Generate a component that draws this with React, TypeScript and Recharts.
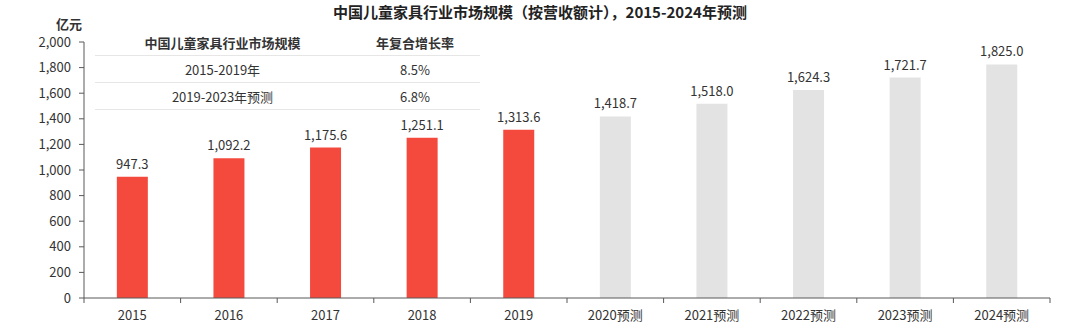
import React from "react";
import {
  BarChart,
  Bar,
  XAxis,
  YAxis,
  Cell,
  LabelList,
} from "recharts";

const years = [
  "2015",
  "2016",
  "2017",
  "2018",
  "2019",
  "2020预测",
  "2021预测",
  "2022预测",
  "2023预测",
  "2024预测",
];
const marketSize = [947.3, 1092.2, 1175.6, 1251.1, 1313.6, 1418.7, 1518.0, 1624.3, 1721.7, 1825.0];
const forecast = [false, false, false, false, false, true, true, true, true, true];
const yTicks = [0, 200, 400, 600, 800, 1000, 1200, 1400, 1600, 1800, 2000];

const cagrRows = [
  { period: "2015-2019年", rate: "8.5%" },
  { period: "2019-2023年预测", rate: "6.8%" },
];

const W = 1080;
const H = 331;
const LEFT = 84;
const RIGHT = 30;
const BAND = (W - LEFT - RIGHT) / years.length;

const FONT = '"Noto Sans CJK SC", "Liberation Sans", sans-serif';
const RED = "#f44a3d";
const GREY = "#e3e3e3";
const AXIS = "#595959";

const data = years.map((year, i) => ({
  year,
  value: marketSize[i],
  forecast: forecast[i],
}));

const fmt = (v: number) =>
  v.toLocaleString("en-US", { minimumFractionDigits: 1, maximumFractionDigits: 1 });

function XTick(props: any) {
  const { x, y, payload, index } = props;
  const last = index === years.length - 1;
  return (
    <g>
      <line x1={x - BAND / 2} y1={y - 8} x2={x - BAND / 2} y2={y - 3} stroke={AXIS} />
      {last && <line x1={x + BAND / 2} y1={y - 8} x2={x + BAND / 2} y2={y - 3} stroke={AXIS} />}
      <text x={x} y={y + 14} textAnchor="middle" fontSize={13} fill="#333" fontFamily={FONT}>
        {payload.value}
      </text>
    </g>
  );
}

export default function App() {
  return (
    <div style={{ position: "absolute", left: 0, top: 0, width: W, height: H, background: "#fff", fontFamily: FONT }}>
      <div
        style={{
          position: "absolute",
          top: 3,
          left: 0,
          width: W,
          textAlign: "center",
          fontSize: 15,
          lineHeight: "18px",
          fontWeight: "bold",
          color: "#222",
        }}
      >
        中国儿童家具行业市场规模（按营收额计），2015-2024年预测
      </div>
      <div
        style={{
          position: "absolute",
          top: 17,
          left: 56,
          fontSize: 13,
          lineHeight: "14px",
          fontWeight: "bold",
          color: "#333",
        }}
      >
        亿元
      </div>
      <BarChart
        width={W}
        height={H}
        data={data}
        margin={{ top: 42, right: RIGHT, bottom: 0, left: 0 }}
        barCategoryGap="34%"
      >
        <XAxis
          dataKey="year"
          height={33}
          tickLine={false}
          axisLine={{ stroke: AXIS }}
          tick={<XTick />}
          interval={0}
        />
        <YAxis
          width={LEFT}
          domain={[0, 2000]}
          ticks={yTicks}
          tickFormatter={(v: number) => v.toLocaleString("en-US")}
          axisLine={{ stroke: AXIS }}
          tickLine={{ stroke: AXIS }}
          tickSize={5}
          tickMargin={8}
          tick={{ fontSize: 13, fill: "#333", fontFamily: FONT }}
        />
        <Bar dataKey="value" isAnimationActive={false}>
          {data.map((d, i) => (
            <Cell key={i} fill={d.forecast ? GREY : RED} />
          ))}
          <LabelList
            dataKey="value"
            position="top"
            offset={8}
            formatter={(v: any) => fmt(Number(v))}
            style={{ fontSize: 13, fill: "#333", fontFamily: FONT }}
          />
        </Bar>
      </BarChart>
      <div style={{ position: "absolute", top: 29, left: 95, width: 385, fontSize: 13, color: "#333" }}>
        <div style={{ display: "flex", height: 26, alignItems: "center", borderBottom: "1px solid #e6e6e6", fontWeight: "bold" }}>
          <div style={{ width: 255, textAlign: "center" }}>中国儿童家具行业市场规模</div>
          <div style={{ width: 130, textAlign: "center" }}>年复合增长率</div>
        </div>
        {cagrRows.map((r) => (
          <div
            key={r.period}
            style={{ display: "flex", height: 26, alignItems: "center", borderBottom: "1px solid #e6e6e6" }}
          >
            <div style={{ width: 255, textAlign: "center" }}>{r.period}</div>
            <div style={{ width: 130, textAlign: "center" }}>{r.rate}</div>
          </div>
        ))}
      </div>
    </div>
  );
}
